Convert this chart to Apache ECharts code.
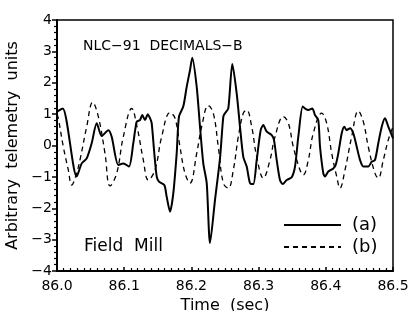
<!DOCTYPE html>
<html>
<head>
<meta charset="utf-8">
<script src="https://cdn.jsdelivr.net/npm/echarts@6/dist/echarts.min.js"></script>
<style>
    html, body {margin: 0; padding: 0; background: #fff;}
    #chart {width: 408px; height: 311px;}
</style>
</head>
<body>
<div id="chart"></div>
<script>
// curve (a), solid
var timeA = [86.0, 86.0085, 86.0293, 86.0368, 86.0442, 86.0516, 86.0591, 86.0665, 86.0763, 86.0814,
    86.0912, 86.0987, 86.1071, 86.1135, 86.1186, 86.1235, 86.1269, 86.1310, 86.1350, 86.1384,
    86.1409, 86.1448, 86.1484, 86.1518, 86.1597, 86.1632, 86.1682, 86.1731, 86.1781, 86.1815,
    86.1879, 86.1930, 86.1979, 86.2013, 86.2079, 86.2128, 86.2177, 86.2228, 86.2277, 86.2351,
    86.2426, 86.2475, 86.2500, 86.2549, 86.2609, 86.2674, 86.2723, 86.2772, 86.2823, 86.2872,
    86.2921, 86.2972, 86.3031, 86.3070, 86.3121, 86.3195, 86.3229, 86.3269, 86.3318, 86.3359,
    86.3418, 86.3493, 86.3542, 86.3591, 86.3656, 86.3690, 86.3740, 86.3799, 86.3839, 86.3888,
    86.3914, 86.3963, 86.3988, 86.4037, 86.4112, 86.4147, 86.4186, 86.4237, 86.4275, 86.4311,
    86.4360, 86.4409, 86.4460, 86.4509, 86.4558, 86.4632, 86.4683, 86.4732, 86.4781, 86.4832,
    86.4881, 86.4930, 86.4981, 86.5];
var valA = [1.08, 1.18, -0.99, -0.57, -0.41, 0.07, 0.71, 0.30, 0.49, 0.28,
    -0.62, -0.57, -0.67, 0.07, 0.76, 0.81, 0.97, 0.81, 1.0, 0.87,
    0.71, -0.25, -0.99, -1.15, -1.26, -1.63, -2.11, -1.52, -0.25, 0.92,
    1.24, 1.87, 2.40, 2.80, 1.87, 0.6, -0.57, -1.2, -3.11, -1.74,
    -0.4, 0.92, 1.03, 1.18, 2.6, 1.66, 0.6, -0.36, -0.67, -1.2,
    -1.23, -0.46, 0.49, 0.65, 0.44, 0.33, 0.18, -0.46, -1.1, -1.23,
    -1.1, -1.01, -0.67, 0.28, 1.24, 1.18, 1.13, 1.18, 0.97, 0.81,
    -0.04, -0.89, -0.99, -0.83, -0.73, -0.62, -0.25, 0.39, 0.6, 0.49,
    0.55, 0.39, -0.04, -0.46, -0.67, -0.67, -0.52, -0.46, 0.07, 0.6,
    0.87, 0.6, 0.33, 0.23];

// curve (b), dashed
var timeB = [86.0, 86.0019, 86.0094, 86.0168, 86.0219, 86.0283, 86.0342, 86.0442, 86.0531, 86.0615,
    86.0714, 86.0789, 86.0888, 86.0987, 86.1112, 86.1195, 86.1284, 86.1359, 86.1458, 86.1558,
    86.1682, 86.1756, 86.1830, 86.1905, 86.1979, 86.2079, 86.2153, 86.2251, 86.2326, 86.2400,
    86.2475, 86.2549, 86.2624, 86.2698, 86.2772, 86.2823, 86.2897, 86.2972, 86.3070, 86.3170,
    86.3244, 86.3368, 86.3443, 86.3516, 86.3616, 86.3665, 86.3740, 86.3814, 86.3939, 86.4013,
    86.4088, 86.4162, 86.4211, 86.4286, 86.4385, 86.4484, 86.4558, 86.4632, 86.4732, 86.4781,
    86.4856, 86.4930, 86.5];
var valB = [1.0, 0.87, -0.04, -0.78, -1.26, -0.95, -0.46, 0.6, 1.38, 0.92,
    -0.25, -1.29, -0.89, 0.28, 1.18, 0.55, -0.46, -1.1, -0.78, 0.28,
    1.05, 0.87, -0.04, -0.89, -1.2, -0.25, 0.6, 1.27, 1.03, -0.04,
    -1.2, -1.36, -0.78, 0.28, 1.03, 1.13, 0.6, -0.36, -1.04, -0.46,
    0.28, 0.92, 0.71, -0.04, -0.78, -0.94, -0.46, 0.39, 1.03, 0.71,
    -0.25, -0.99, -1.36, -0.78, 0.28, 1.1, 0.76, -0.04, -0.89, -1.04,
    -0.46, 0.18, 0.6];

var xTicks = [86.0, 86.1, 86.2, 86.3, 86.4, 86.5];
var yTicks = [-4, -3, -2, -1, 0, 1, 2, 3, 4];

function pairs(t, v) {
    var out = [];
    for (var i = 0; i < t.length; i++) {
        out.push([t[i], v[i]]);
    }
    return out;
}

var font = 'DejaVu Sans, sans-serif';
var myChart = echarts.init(document.getElementById('chart'));

var option = {
    animation: false,
    backgroundColor: '#fff',
    grid: {
        left: 57, right: 15, top: 20, bottom: 40,
        outerBoundsMode: 'none', containLabel: false,
        show: true, borderColor: '#000', borderWidth: 1.5
    },
    title: [
        {text: 'NLC\u221291  DECIMALS\u2212B', left: 78, top: 34,
            textStyle: {fontFamily: font, fontSize: 14, fontWeight: 'normal', color: '#000'}},
        {text: 'Field  Mill', left: 79, top: 233,
            textStyle: {fontFamily: font, fontSize: 17, fontWeight: 'normal', color: '#000'}}
    ],
    legend: {
        orient: 'vertical',
        left: 278, top: 211,
        itemWidth: 57, itemHeight: 16, itemGap: 4,
        data: ['(a)', '(b)'],
        itemStyle: {opacity: 0},
        textStyle: {fontFamily: font, fontSize: 18, color: '#000', padding: [0, 0, 0, 6]}
    },
    xAxis: {
        type: 'value',
        min: xTicks[0], max: xTicks[xTicks.length - 1], interval: 0.1,
        name: 'Time  (sec)', nameLocation: 'middle', nameGap: 22,
        nameTextStyle: {fontFamily: font, fontSize: 16, color: '#000'},
        axisLine: {onZero: false, lineStyle: {color: '#000', width: 2}},
        axisTick: {inside: true, length: 4, lineStyle: {color: '#000', width: 1.5}},
        minorTick: {show: true, splitNumber: 10, length: 3, lineStyle: {color: '#000', width: 1.2}},
        axisLabel: {fontFamily: font, fontSize: 14, color: '#000', margin: 8,
            formatter: function (v) { return v.toFixed(1); }},
        splitLine: {show: false}
    },
    yAxis: {
        type: 'value',
        min: yTicks[0], max: yTicks[yTicks.length - 1], interval: 1,
        name: 'Arbitrary  telemetry  units', nameLocation: 'middle', nameGap: 34,
        nameTextStyle: {fontFamily: font, fontSize: 16, color: '#000'},
        axisLine: {onZero: false, lineStyle: {color: '#000', width: 2}},
        axisTick: {inside: false, length: 5, lineStyle: {color: '#000', width: 1.5}},
        minorTick: {show: true, splitNumber: 5, length: 3, lineStyle: {color: '#000', width: 1.2}},
        axisLabel: {fontFamily: font, fontSize: 14, color: '#000', margin: 5,
            formatter: function (v) { return v < 0 ? '\u2212' + Math.abs(v) : String(v); }},
        splitLine: {show: false}
    },
    series: [
        {
            name: '(a)', type: 'line', data: pairs(timeA, valA),
            showSymbol: false, symbol: 'none', smooth: 0.25,
            itemStyle: {color: '#000'},
            lineStyle: {color: '#000', width: 2}
        },
        {
            name: '(b)', type: 'line', data: pairs(timeB, valB),
            showSymbol: false, symbol: 'none', smooth: 0.4,
            itemStyle: {color: '#000'},
            lineStyle: {color: '#000', width: 1.3, type: [5, 4]}
        }
    ]
};

myChart.setOption(option);
</script>
</body>
</html>
